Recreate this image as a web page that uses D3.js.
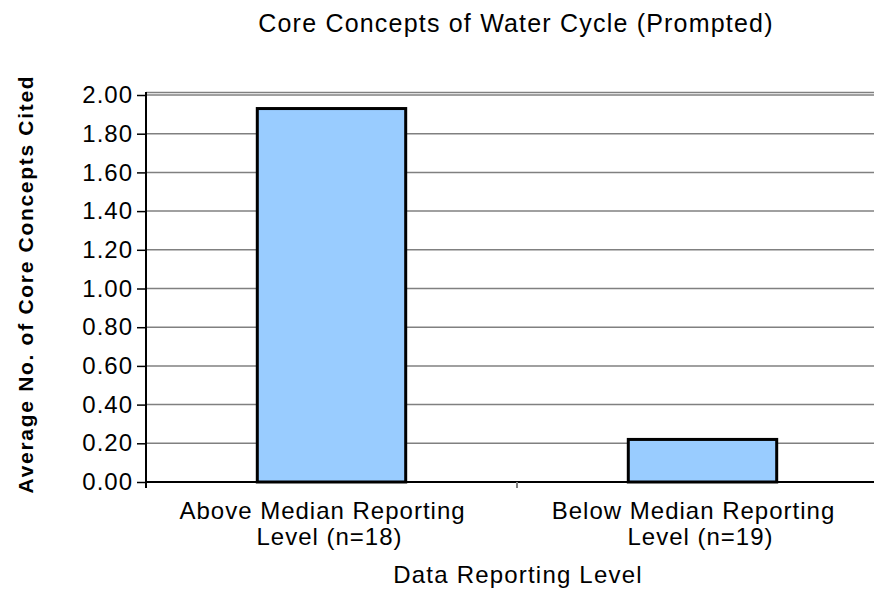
<!DOCTYPE html>
<html>
<head>
<meta charset="utf-8">
<script src="https://cdn.jsdelivr.net/npm/d3@7"></script>
<style>
  body { margin: 0; background: #fff; }
  text { font-family: "Liberation Sans", Arial, sans-serif; fill: #000; }
</style>
</head>
<body>
<svg id="chart" width="874" height="590"></svg>
<script>
// data
var categories = ["Above Median Reporting|Level  (n=18)", "Below Median Reporting|Level  (n=19)"];
var values = [1.93, 0.22];
var yTicks = [0, 0.2, 0.4, 0.6, 0.8, 1.0, 1.2, 1.4, 1.6, 1.8, 2.0];

var svg = d3.select("#chart");
// plot area runs past the right edge of the picture, like the original
var margin = { left: 146, right: -14, top: 95, bottom: 108 };
var width = 874 - margin.left - margin.right,
  height = 590 - margin.top - margin.bottom;

var x = d3.scaleBand().domain(categories).range([0, width]);
var y = d3.scaleLinear().domain([0, 2]).range([height, 0]);

var g = svg.append("g").attr("transform", "translate(" + margin.left + "," + margin.top + ")");

// gridlines
g.selectAll("line.grid")
  .data(yTicks.slice(1))
  .enter()
  .append("line")
  .attr("class", "grid")
  .attr("x1", 0)
  .attr("x2", width)
  .attr("y1", function (d) { return y(d); })
  .attr("y2", function (d) { return y(d); })
  .attr("stroke", "#808080")
  .attr("stroke-width", 1.5);

// top border of plot area
g.append("line")
  .attr("x1", 0).attr("x2", width)
  .attr("y1", -2.5).attr("y2", -2.5)
  .attr("stroke", "#808080").attr("stroke-width", 1.5);

// bars
var bw = x.bandwidth() * 0.4;
g.selectAll("rect.bar")
  .data(values)
  .enter()
  .append("rect")
  .attr("class", "bar")
  .attr("x", function (d, i) { return x(categories[i]) + (x.bandwidth() - bw) / 2; })
  .attr("y", function (d) { return y(d); })
  .attr("width", bw)
  .attr("height", function (d) { return height - y(d); })
  .attr("fill", "#99ccff")
  .attr("stroke", "#000")
  .attr("stroke-width", 3);

// y axis
var yAxis = g.append("g")
  .call(d3.axisLeft(y).tickValues(yTicks).tickFormat(d3.format(".2f")).tickSize(9).tickSizeOuter(0));
yAxis.select(".domain").attr("stroke", "#000").attr("stroke-width", 2)
  .attr("d", "M0," + (-3) + "V" + height);
yAxis.selectAll(".tick line").attr("stroke", "#000").attr("stroke-width", 1.5);
yAxis.selectAll(".tick text")
  .attr("font-size", 24)
  .attr("x", -13)
  .style("font-family", "Liberation Sans, Arial, sans-serif")
  .style("letter-spacing", "1px");

// x axis
var xAxis = g.append("g").attr("transform", "translate(0," + height + ")");
xAxis.append("line")
  .attr("x1", 0).attr("x2", width)
  .attr("y1", 0).attr("y2", 0)
  .attr("stroke", "#000").attr("stroke-width", 2);
xAxis.selectAll("line.xtick")
  .data(categories)
  .enter()
  .append("line")
  .attr("class", "xtick")
  .attr("x1", function (d) { return x(d); })
  .attr("x2", function (d) { return x(d); })
  .attr("y1", 0).attr("y2", 6)
  .attr("stroke", function (d, i) { return i ? "#808080" : "#000"; })
  .attr("stroke-width", 2);

var lbl = xAxis.selectAll("text.cat")
  .data(categories)
  .enter()
  .append("text")
  .attr("class", "cat")
  .attr("text-anchor", "middle")
  .attr("font-size", 24)
  .style("letter-spacing", "1px")
  .attr("transform", function (d) { return "translate(" + (x(d) + x.bandwidth() / 2) + ",37)"; });
lbl.selectAll("tspan")
  .data(function (d) { return d.split("|"); })
  .enter()
  .append("tspan")
  .attr("x", function (d, i) { return i ? -2 : -9; })
  .attr("dy", function (d, i) { return i ? 26 : 0; })
  .text(function (d) { return d; });

// titles
svg.append("text")
  .attr("x", 516).attr("y", 32)
  .attr("text-anchor", "middle")
  .attr("font-size", 25)
  .style("letter-spacing", "1.2px")
  .text("Core Concepts of Water Cycle (Prompted)");

svg.append("text")
  .attr("x", 518).attr("y", 583)
  .attr("text-anchor", "middle")
  .attr("font-size", 24)
  .style("letter-spacing", "1.2px")
  .text("Data Reporting Level");

svg.append("text")
  .attr("transform", "translate(33,284) rotate(-90)")
  .attr("text-anchor", "middle")
  .attr("font-size", 21)
  .attr("font-weight", "bold")
  .style("letter-spacing", "1.7px")
  .text("Average No. of Core Concepts Cited");
</script>
</body>
</html>
